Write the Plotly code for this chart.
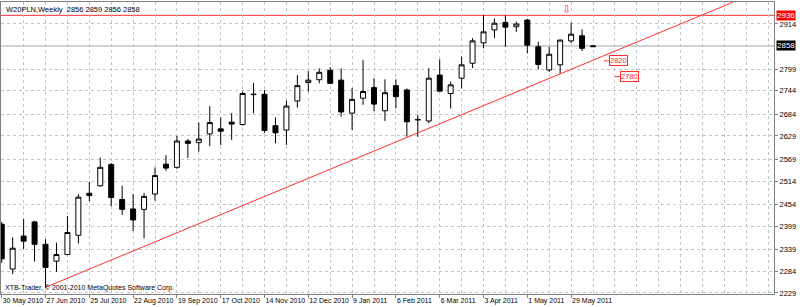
import pandas as pd
import plotly.graph_objects as go

# ---------------- data ----------------
week_start = "2010-05-30"
opens = [2404, 2290, 2374, 2410, 2353, 2310, 2327, 2376, 2483, 2502,
         2556, 2467, 2443, 2442, 2481, 2557, 2549, 2616, 2612, 2634,
         2647, 2664, 2658, 2734, 2735, 2655, 2644, 2718, 2765, 2772,
         2796, 2771, 2687, 2725, 2752, 2693, 2757, 2746, 2671, 2667,
         2784, 2737, 2776, 2814, 2866, 2899, 2918, 2907, 2924, 2856,
         2797, 2810, 2871, 2884, 2856]
highs = [2410, 2371, 2417, 2413, 2366, 2357, 2425, 2481, 2512, 2574,
         2560, 2502, 2481, 2484, 2549, 2580, 2629, 2621, 2663, 2705,
         2676, 2687, 2742, 2764, 2746, 2676, 2719, 2784, 2794, 2801,
         2804, 2801, 2751, 2822, 2776, 2773, 2773, 2750, 2682, 2801,
         2824, 2767, 2831, 2878, 2937, 2928, 2936, 2920, 2927, 2869,
         2856, 2874, 2917, 2900, 2859]
lows = [2306, 2277, 2341, 2309, 2243, 2283, 2325, 2355, 2463, 2500,
        2450, 2428, 2387, 2368, 2464, 2540, 2545, 2573, 2589, 2603,
        2606, 2619, 2655, 2687, 2637, 2610, 2606, 2701, 2742, 2763,
        2762, 2678, 2644, 2708, 2692, 2667, 2699, 2627, 2627, 2661,
        2741, 2699, 2750, 2802, 2852, 2878, 2856, 2894, 2839, 2799,
        2792, 2787, 2865, 2845, 2856]
closes = [2316, 2343, 2361, 2353, 2294, 2327, 2383, 2473, 2477, 2549,
          2472, 2442, 2415, 2475, 2528, 2547, 2616, 2610, 2621, 2663,
          2641, 2659, 2737, 2735, 2643, 2637, 2705, 2757, 2771, 2791,
          2763, 2690, 2722, 2742, 2710, 2739, 2729, 2665, 2670, 2776,
          2743, 2759, 2810, 2871, 2894, 2916, 2906, 2914, 2860, 2811,
          2837, 2873, 2888, 2852, 2858]

y_ticks = [2229, 2284, 2339, 2399, 2454, 2514, 2569, 2629, 2684, 2744, 2799, 2914]
resistance = 2936
bid = 2858
trend_dates = ["2010-06-27", "2011-05-22"]
trend_prices = [2243.5, 2787.0]
price_labels = [2820, 2780]
price_label_dates = ["2011-06-19", "2011-06-26"]
arrow_date = "2011-05-26"
arrow_price = 2951

title_text = "W20PLN,Weekly  2856 2859 2856 2858"
copyright_text = "XTB-Trader, \u00a9 2001-2010 MetaQuotes Software Corp."

x_range = ["2010-05-29 13:00", "2011-10-05 17:00"]
y_range = [2226.4, 2970]

# ---------------- figure ----------------
dates = pd.date_range(week_start, periods=len(opens), freq="7D")
label_dates = list(dates[::4])

FONT = "Liberation Sans, Arial, sans-serif"
GRID = "#c4c4c4"
RED = "#ff3030"

fig = go.Figure()
fig.add_trace(go.Candlestick(
    x=dates, open=opens, high=highs, low=lows, close=closes,
    increasing=dict(line=dict(color="black", width=1), fillcolor="white"),
    decreasing=dict(line=dict(color="black", width=1), fillcolor="black"),
    whiskerwidth=0, showlegend=False, hoverinfo="skip",
))

# trend ray from two anchor points, extended to the top of the chart
t0, t1 = pd.Timestamp(trend_dates[0]), pd.Timestamp(trend_dates[1])
slope = (trend_prices[1] - trend_prices[0]) / (t1 - t0).total_seconds()
t_end = t1 + pd.Timedelta(seconds=(y_range[1] - trend_prices[1]) / slope)
fig.add_shape(type="line", x0=t0, y0=trend_prices[0], x1=t_end, y1=y_range[1],
              line=dict(color=RED, width=1), layer="above")

# horizontal resistance and bid lines
fig.add_shape(type="line", xref="paper", x0=0, x1=1, y0=resistance, y1=resistance,
              line=dict(color=RED, width=1), layer="below")
fig.add_shape(type="line", xref="paper", x0=0, x1=1, y0=bid, y1=bid,
              line=dict(color="#a8a8a8", width=1), layer="below")

# price labels with small leader line
for d, p in zip(price_label_dates, price_labels):
    ts = pd.Timestamp(d)
    fig.add_shape(type="line", x0=ts, x1=ts + pd.Timedelta(days=3.5), y0=p, y1=p,
                  line=dict(color=RED, width=1))
    fig.add_annotation(x=ts + pd.Timedelta(days=3.5), y=p, text=str(p), showarrow=False,
                       xanchor="left", yanchor="middle",
                       font=dict(family=FONT, size=7.5, color=RED),
                       bgcolor="white", bordercolor=RED, borderwidth=1, borderpad=0)

# arrow marker
fig.add_annotation(x=pd.Timestamp(arrow_date), y=arrow_price, text="\u21e9", showarrow=False,
                   font=dict(family="DejaVu Sans", size=11, color=RED))

# right-axis boxes
fig.add_annotation(xref="paper", x=1, xshift=2, y=resistance, text=str(resistance),
                   showarrow=False, xanchor="left", yanchor="middle",
                   font=dict(family=FONT, size=8, color="white"), bgcolor="#ff0000",
                   borderpad=0)
fig.add_annotation(xref="paper", x=1, xshift=2, y=bid, text=str(bid),
                   showarrow=False, xanchor="left", yanchor="middle",
                   font=dict(family=FONT, size=8, color="white"), bgcolor="black",
                   borderpad=0)

# title and copyright
fig.add_annotation(xref="paper", yref="paper", x=0, xshift=3, y=1, yshift=-1,
                   text=title_text, showarrow=False, xanchor="left", yanchor="top",
                   font=dict(family=FONT, size=7.5, color="black"))
fig.add_annotation(xref="paper", yref="paper", x=0, xshift=2, y=0, yshift=0,
                   text=copyright_text, showarrow=False, xanchor="left", yanchor="bottom",
                   font=dict(family=FONT, size=7, color="black"))

fig.update_layout(
    width=800, height=307,
    margin=dict(l=1, r=26, t=2, b=13, autoexpand=False),
    paper_bgcolor="white", plot_bgcolor="white",
    font=dict(family=FONT, size=8, color="black"),
    showlegend=False,
    boxgap=0.35,
    xaxis=dict(
        type="date", range=x_range, rangeslider=dict(visible=False),
        tickmode="array", tickvals=label_dates, tickformat="%-d %b %Y",
        ticklabelposition="outside right", tickangle=0, automargin=False,
        tickfont=dict(family=FONT, size=7, color="black"),
        ticks="outside", ticklen=3, tickcolor="#808080",
        showgrid=True, gridcolor=GRID, griddash="dot", gridwidth=1,
        minor=dict(dtick=14 * 86400000, tick0=week_start, showgrid=True,
                   gridcolor=GRID, griddash="dot", ticklen=0),
        showline=True, linecolor="#808080", linewidth=1, mirror=True,
        zeroline=False, fixedrange=True,
    ),
    yaxis=dict(
        side="right", range=y_range, automargin=False,
        tickmode="array", tickvals=y_ticks, ticktext=[str(v) for v in y_ticks],
        tickfont=dict(family=FONT, size=7.5, color="black"),
        ticks="outside", ticklen=3, tickcolor="#808080",
        showgrid=True, gridcolor=GRID, griddash="dot", gridwidth=1,
        showline=True, linecolor="#808080", linewidth=1, mirror=True,
        zeroline=False, fixedrange=True,
    ),
)

fig.write_html("out.html")
